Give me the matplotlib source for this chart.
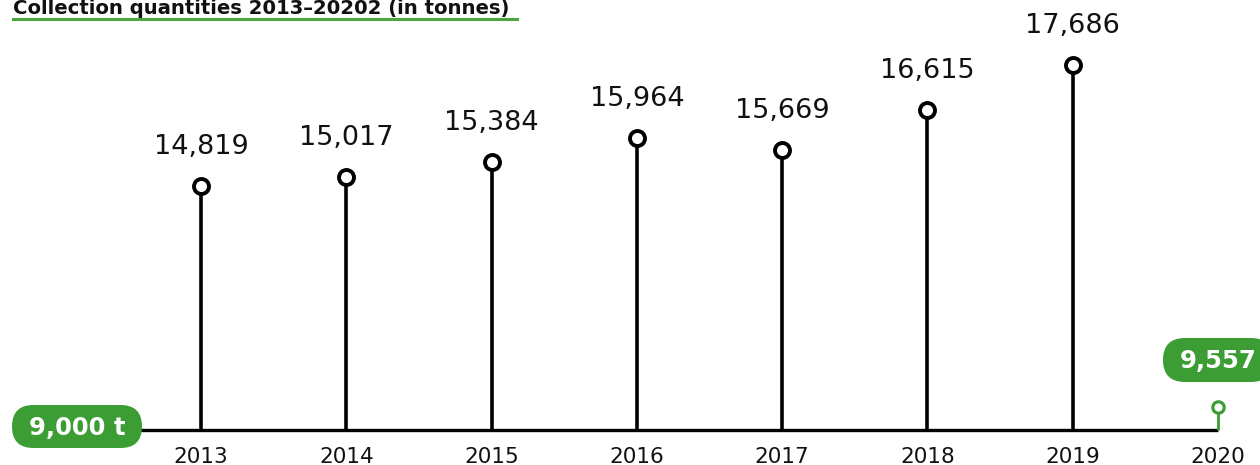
import matplotlib
matplotlib.use("Agg")
import matplotlib.pyplot as plt
from matplotlib.patches import FancyBboxPatch
from matplotlib.transforms import IdentityTransform

years = [2013, 2014, 2015, 2016, 2017, 2018, 2019]
values = [14819, 15017, 15384, 15964, 15669, 16615, 17686]
year_labels = ["2013", "2014", "2015", "2016", "2017", "2018", "2019", "2020"]
last_year = 2020
last_value = 9557
baseline = 9000
title = "Collection quantities 2013\u201320202 (in tonnes)"
baseline_label = "9,000 t"
last_label = "9,557"

GREEN = "#3b9d34"
W, H = 1260, 465
plt.rcParams['font.family'] = ['DejaVu Sans']

fig = plt.figure(figsize=(W / 100, H / 100), dpi=100)
ax = fig.add_axes([0, 0, 1, 1])
ax.set_axis_off()

px_per_year = (1218 - 201) / 7
ax.set_xlim(2013 - 201 / px_per_year, 2013 + (W - 201) / px_per_year)
t_per_px = 1 / 0.042
ax.set_ylim(baseline - 35 * t_per_px, baseline + 430 * t_per_px)

def yf(p):
    return 1 - p / H

# baseline
ax.plot([2013 - 61 / px_per_year, last_year], [baseline, baseline], color="black",
        lw=2.4, solid_capstyle="butt", zorder=2)

# stems
ax.vlines(years, baseline, values, color="black", lw=2.6, zorder=2)
ax.plot(years, values, 'o', ms=10.8, mfc="white", mec="black", mew=2.8, zorder=3)
for x, v in zip(years, values):
    ax.annotate(f"{v:,}", (x, v), xytext=(0, 23), textcoords="offset points",
                ha="center", va="baseline", fontsize=19.5, color="#111111")

# 2020 green stem
ax.vlines([last_year], baseline, [last_value], color=GREEN, lw=2.0, zorder=2)
ax.plot([last_year], [last_value], 'o', ms=8.2, mfc="white", mec=GREEN, mew=2.3, zorder=3)

# year labels
for x, lab in zip(years + [last_year], year_labels):
    ax.text(x, yf(463), lab, transform=ax.get_xaxis_transform(), ha="center",
            va="baseline", fontsize=15.5, color="#111111")

# pills (pixel coordinates, y from bottom)
def pill(cx, cy_top, w, h, text, fs):
    cy = H - cy_top
    p = FancyBboxPatch((cx - w / 2, cy - h / 2), w, h,
                       boxstyle=f"round,pad=0,rounding_size={h / 2}",
                       transform=IdentityTransform(), facecolor=GREEN,
                       edgecolor="none", zorder=4)
    fig.patches.append(p)
    fig.text(cx / W, (cy - 1) / H, text, ha="center", va="center", fontsize=fs,
             fontweight="bold", color="white", zorder=5)

pill(77, 426.5, 130, 43, baseline_label, 17.5)
pill(1218, 360, 110, 44, last_label, 17.5)

# title
fig.text(13 / W, yf(14), title, ha="left", va="baseline", fontsize=14.1,
         fontweight="bold", color="#111111")
fig.add_artist(plt.Line2D([13 / W, 517 / W], [yf(19.5), yf(19.5)], color="#4aa63f",
                          lw=2.2, transform=fig.transFigure))

fig.savefig("out.png", dpi=100)
